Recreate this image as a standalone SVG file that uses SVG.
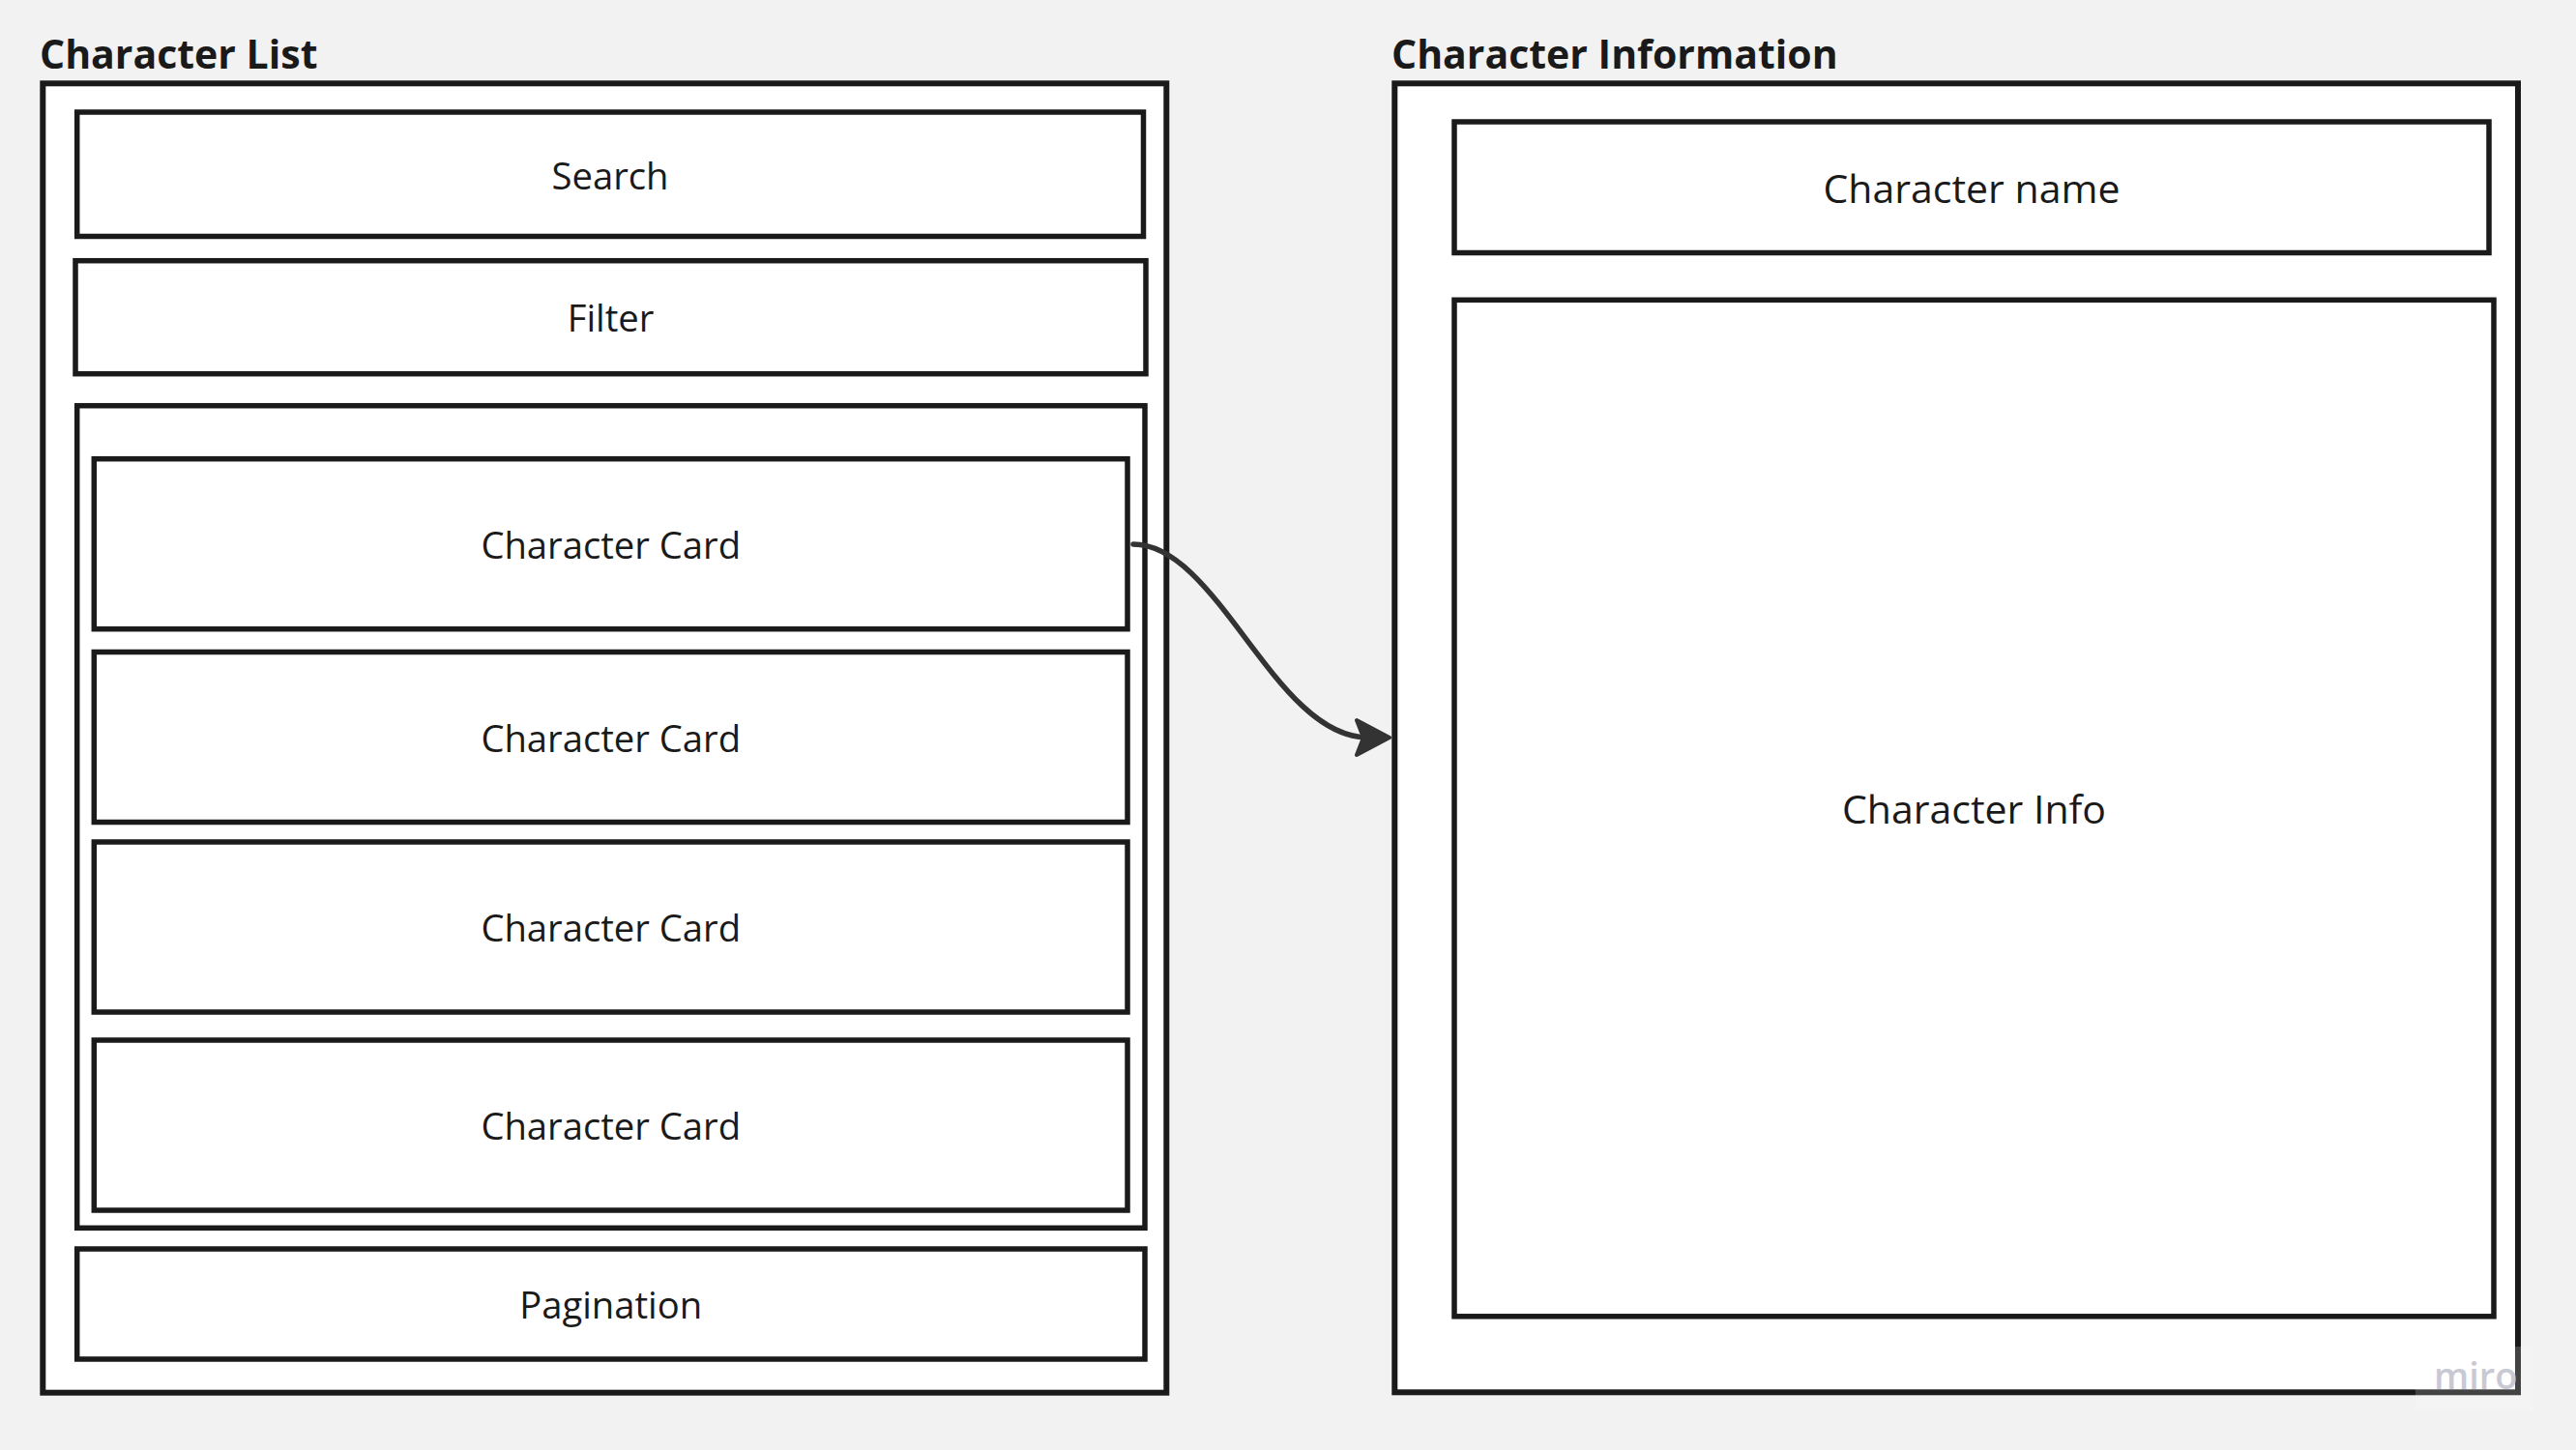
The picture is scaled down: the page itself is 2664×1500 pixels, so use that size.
<svg xmlns="http://www.w3.org/2000/svg" width="2664" height="1500" viewBox="0 0 2664 1500">
  <style>
    .frame { fill: #ffffff; stroke: #1a1a1a; stroke-width: 6; }
    .box { fill: #ffffff; stroke: #1a1a1a; stroke-width: 5.5; }
    .title { font-family: "Open Sans", "Noto Sans", "Liberation Sans", sans-serif; font-weight: 700; font-size: 41px; fill: #1a1a1a; }
    .lbl { font-family: "Open Sans", "Noto Sans", "Liberation Sans", sans-serif; font-size: 38.2px; fill: #1a1a1a; text-anchor: middle; }
    .lblr { font-family: "Open Sans", "Noto Sans", "Liberation Sans", sans-serif; font-size: 41px; fill: #1a1a1a; text-anchor: middle; }
    .conn { fill: none; stroke: #333333; stroke-width: 5.5; stroke-linecap: round; }
  </style>
  <defs>
    <marker id="arrow" markerUnits="userSpaceOnUse" viewBox="0 0 44 44" markerWidth="44" markerHeight="44" refX="17" refY="22" orient="auto">
      <path d="M5,4 L39,22 L5,40 L12,22 Z" fill="#333333" stroke="#333333" stroke-width="4" stroke-linejoin="round"/>
    </marker>
  </defs>
  <rect x="0" y="0" width="2664" height="1500" fill="#f2f2f2"/>

  <g id="character-list">
    <text class="title" x="41" y="71">Character List</text>
    <rect class="frame" x="44.3" y="86.3" width="1162" height="1354.4"/>
  </g>
  <g id="search">
    <rect class="box" x="79.7" y="116" width="1102.8" height="128.5"/>
    <text class="lbl" x="631" y="195.5">Search</text>
  </g>
  <g id="filter">
    <rect class="box" x="78" y="269.7" width="1107" height="117"/>
    <text class="lbl" x="631.5" y="343">Filter</text>
  </g>
  <g id="card-list">
    <rect class="box" x="79.7" y="419.7" width="1104.3" height="850.6"/>
  </g>
  <g id="card-1">
    <rect class="box" x="97.3" y="474.7" width="1068.7" height="176"/>
    <text class="lbl" x="631.7" y="577.5">Character Card</text>
  </g>
  <g id="card-2">
    <rect class="box" x="97.3" y="674.5" width="1068.7" height="176"/>
    <text class="lbl" x="631.7" y="777.5">Character Card</text>
  </g>
  <g id="card-3">
    <rect class="box" x="97.3" y="871" width="1068.7" height="176"/>
    <text class="lbl" x="631.7" y="974">Character Card</text>
  </g>
  <g id="card-4">
    <rect class="box" x="97.3" y="1076" width="1068.7" height="176"/>
    <text class="lbl" x="631.7" y="1179">Character Card</text>
  </g>
  <g id="pagination">
    <rect class="box" x="79.7" y="1292" width="1104.3" height="114"/>
    <text class="lbl" x="631.7" y="1364">Pagination</text>
  </g>

  <g id="character-information">
    <text class="title" x="1439" y="71">Character Information</text>
    <rect class="frame" x="1442.3" y="86.3" width="1161.7" height="1354"/>
  </g>
  <g id="character-name">
    <rect class="box" x="1504" y="126" width="1070" height="135.5"/>
    <text class="lblr" x="2039" y="210">Character name</text>
  </g>
  <g id="character-info">
    <rect class="box" x="1504" y="310.3" width="1075" height="1051.5"/>
    <text class="lblr" x="2041.5" y="851.5">Character Info</text>
  </g>

  <g id="connectors">
    <path class="conn" d="M1172,563 C1260,563 1318,763 1415,763" marker-end="url(#arrow)"/>
  </g>

  <g id="watermark">
    <rect x="2498" y="1393" width="122" height="66" fill="#ffffff" fill-opacity="0.18"/>
    <text x="2517" y="1437" font-family="Open Sans, Noto Sans, sans-serif" font-weight="600" font-size="38" fill="#c9c9d3">miro</text>
  </g>
</svg>
